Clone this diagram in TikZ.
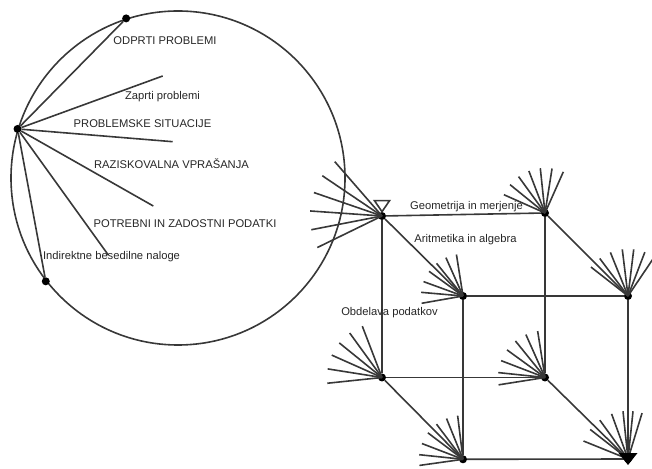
\documentclass[tikz,border=0pt]{standalone}
\usepackage{fontspec}
\setmainfont{Liberation Sans}
\usetikzlibrary{positioning}

\begin{document}
\begin{tikzpicture}[
  x=1pt, y=1pt,
  ln/.style={draw=black!78, line width=1.6pt},
  dot/.style={circle, fill=black, inner sep=0pt, minimum size=8pt},
  lbl/.style={font=\fontsize{11.2}{13}\selectfont, text=black!85, inner sep=0pt}
]
\useasboundingbox (0,0) rectangle (652,468);
% circle of problem types
\node[circle, ln, minimum size=334pt, inner sep=0pt] (circ) at (178,290) {};
\node[dot] (top) at (circ.108.3) {};
\node[dot] (left) at (circ.163.5) {};
\node[dot] (bot) at (circ.218.7) {};
\coordinate (z1) at (162.7,392);
\coordinate (z2) at (172.7,326.3);
\coordinate (z3) at (153.3,262);
\coordinate (z4) at (108.3,213);
\foreach \y in {top,z1,z2,z3,z4,bot} \draw[ln] (left) -- (\y);
\node[lbl] (odp) at (165,427) {ODPRTI PROBLEMI};
\node[lbl] (zap) at (162.5,371) {Zaprti problemi};
\node[lbl] (sit) at (142.5,344) {PROBLEMSKE SITUACIJE};
\node[lbl] (raz) at (171.5,304) {RAZISKOVALNA VPRAŠANJA};
\node[lbl] (pot) at (185,244) {POTREBNI IN ZADOSTNI PODATKI};
\node[lbl] (ind) at (111.5,211) {Indirektne besedilne naloge};
% cube of content areas
\node[dot] (A) at (382,252) {};
\node[dot] (B) at (545,255) {};
\node[dot] (C) at (463,172) {};
\node[dot] (D) at (628,172) {};
\node[dot] (E) at (382,90.5) {};
\node[dot] (F) at (545,90.5) {};
\node[dot] (G) at (463,8.7) {};
\node[dot] (H) at (628,9) {};
\foreach \x/\y in {A/B,A/C,A/E,B/D,B/F,C/D,C/G,D/H,E/F,E/G,F/H,G/H} \draw[ln] (\x) -- (\y);
\foreach \v/\l/\angs in {A/72/{131,146,161,176,191,206},
                         B/45/{66,81,96,111,126,141,156},
                         C/42/{99,114,129,144,160,175,190},
                         D/47/{56,69,83,97,112,127,142},
                         E/55/{111,126,141,156,171,186},
                         F/47/{99,114,129,144,159,174,189},
                         G/44/{97,112,127,143,159,174,188},
                         H/48/{73,84,96,110,126,142,158}}
  \foreach \a in \angs \draw[ln] (\v.center) -- ++(\a:\l);
\draw[ln] ([shift={(-7.5,15.3)}]A.center) -- ([shift={(7.5,15.3)}]A.center)
  -- ([shift={(0,4.3)}]A.center) -- cycle;
\fill[black] ([shift={(-9.5,6)}]H.center) -- ([shift={(9.5,6)}]H.center)
  -- ([shift={(0,-6)}]H.center) -- cycle;
\node[lbl] (geo) at (466.5,261) {Geometrija in merjenje};
\node[lbl] (ari) at (465.5,228) {Aritmetika in algebra};
\node[lbl] (obd) at (389.5,155.3) {Obdelava podatkov};
\end{tikzpicture}
\end{document}
